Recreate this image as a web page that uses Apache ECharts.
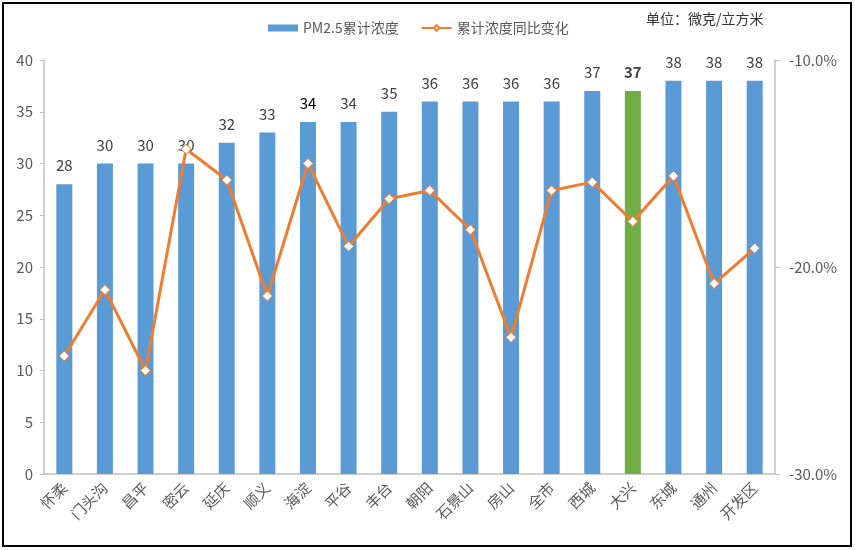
<!DOCTYPE html>
<html>
<head>
<meta charset="utf-8">
<script src="https://cdn.jsdelivr.net/npm/echarts@6/dist/echarts.min.js"></script>
<style>
html,body{margin:0;padding:0;background:#fff;}
#main{width:855px;height:550px;}
</style>
</head>
<body>
<div id="main"></div>
<script>
var categories = ['怀柔','门头沟','昌平','密云','延庆','顺义','海淀','平谷','丰台','朝阳','石景山','房山','全市','西城','大兴','东城','通州','开发区'];
var pmValues = [28,30,30,30,32,33,34,34,35,36,36,36,36,37,37,38,38,38];
var yoyValues = [-24.3,-21.1,-25.0,-14.3,-15.8,-21.4,-15.0,-19.0,-16.7,-16.3,-18.2,-23.4,-16.3,-15.9,-17.8,-15.6,-20.8,-19.1];
var highlightCategory = '大兴';
var darkLabelCategory = '海淀';
var leftTicks = {min:0, max:40, interval:5};
var rightTicks = {min:-30, max:-10, interval:10};

var barData = pmValues.map(function(v,i){
  var item = {value:v};
  if (categories[i] === highlightCategory) {
    item.itemStyle = {color:'#70AD47'};
    item.label = {fontWeight:'bold', color:'#404040'};
  } else if (categories[i] === darkLabelCategory) {
    item.label = {color:'#000000'};
  }
  return item;
});

var chart = echarts.init(document.getElementById('main'), null, {renderer:'canvas'});
var font = 'Microsoft YaHei, "Noto Sans CJK SC", sans-serif';
chart.setOption({
  animation:false,
  textStyle:{fontFamily:font},
  graphic:[{
    type:'rect', shape:{x:3,y:3,width:848,height:543},
    style:{fill:'none', stroke:'#000', lineWidth:2}, silent:true, z:100
  },{
    type:'text', left:646, top:12,
    style:{text:'单位：微克/立方米', fill:'#333', font:'14px ' + font}
  }],
  legend:{
    left:263, top:16,
    itemGap:22, itemWidth:30, itemHeight:7,
    textStyle:{color:'#595959', fontSize:14, fontFamily:font},
    data:[{name:'PM2.5累计浓度', icon:'rect'}, {name:'累计浓度同比变化'}]
  },
  grid:{left:44, right:80, top:60, bottom:76, containLabel:false},
  xAxis:{
    type:'category', data:categories,
    axisLine:{lineStyle:{color:'#BFBFBF', width:1.5}},
    axisTick:{show:false},
    axisLabel:{rotate:45, color:'#595959', fontSize:15, interval:0, margin:11, fontFamily:font}
  },
  yAxis:[{
    type:'value', min:leftTicks.min, max:leftTicks.max, interval:leftTicks.interval,
    axisLine:{show:true, lineStyle:{color:'#BFBFBF', width:1.5}},
    axisTick:{show:true, length:4, lineStyle:{color:'#BFBFBF'}},
    splitLine:{show:false},
    axisLabel:{color:'#595959', fontSize:15, margin:11, fontFamily:font}
  },{
    type:'value', min:rightTicks.min, max:rightTicks.max, interval:rightTicks.interval,
    position:'right',
    axisLine:{show:true, lineStyle:{color:'#BFBFBF', width:1.5}},
    axisTick:{show:true, length:5, lineStyle:{color:'#BFBFBF'}},
    splitLine:{show:false},
    axisLabel:{color:'#595959', fontSize:15, margin:14, fontFamily:font,
      formatter:function(v){return v.toFixed(1)+'%';}}
  }],
  series:[{
    name:'PM2.5累计浓度', type:'bar', yAxisIndex:0,
    data:barData, barWidth:16,
    itemStyle:{color:'#5B9BD5'},
    label:{show:true, position:'top', distance:11, color:'#404040', fontSize:15, fontFamily:font}
  },{
    name:'累计浓度同比变化', type:'line', yAxisIndex:1,
    data:yoyValues,
    lineStyle:{color:'#ED7D31', width:3},
    itemStyle:{color:'#fff', borderColor:'#ED7D31', borderWidth:1},
    symbol:'diamond', symbolSize:10, showAllSymbol:true,
    z:5
  }]
});
</script>
</body>
</html>
